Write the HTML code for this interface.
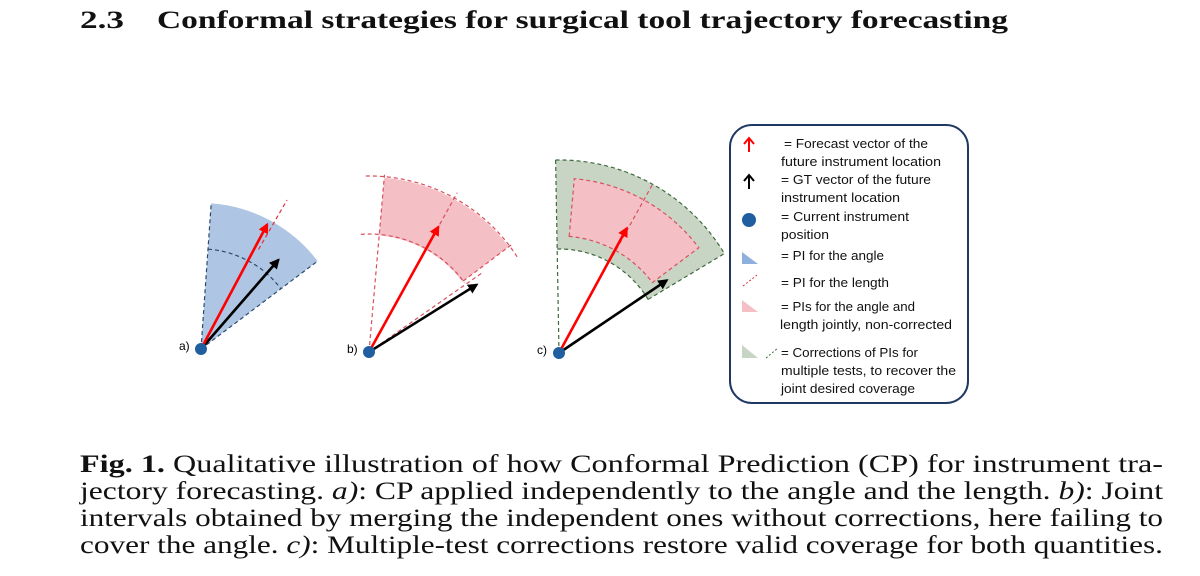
<!DOCTYPE html>
<html><head><meta charset="utf-8"><style>
html,body{margin:0;padding:0;background:#fff;}
svg{display:block;}
.cap{font-family:"Liberation Serif",serif;font-size:25.5px;fill:#111;}
.lg{font-family:"Liberation Sans",sans-serif;font-size:13px;fill:#111;}
</style></head><body>
<svg id="fig" width="1200" height="576" viewBox="0 0 1200 576">
<defs>
<marker id="ar" viewBox="0 0 10 10" refX="8" refY="5" markerWidth="4" markerHeight="4" orient="auto"><path d="M0,0L10,5L0,10z" fill="#f00"/></marker>
<marker id="ak" viewBox="0 0 10 10" refX="8" refY="5" markerWidth="4" markerHeight="4" orient="auto"><path d="M0,0L10,5L0,10z" fill="#000"/></marker>
</defs>
<text x="80" y="28" font-family="Liberation Serif,serif" font-weight="bold" font-size="25" textLength="44" lengthAdjust="spacingAndGlyphs" fill="#111">2.3</text>
<text x="157" y="28" font-family="Liberation Serif,serif" font-weight="bold" font-size="25" textLength="851" lengthAdjust="spacingAndGlyphs" fill="#111">Conformal strategies for surgical tool trajectory forecasting</text>
<g id="panels"></g>
<g>
<rect x="730" y="125" width="238" height="278" rx="22" fill="#fff" stroke="#1f3864" stroke-width="2"/>
<path d="M749,152L749,139M744,144L749,138L754,144" stroke="#f00" stroke-width="2" fill="none"/>
<path d="M749,189L749,176M744,181L749,175L754,181" stroke="#000" stroke-width="2" fill="none"/>
<circle cx="749" cy="220" r="7" fill="#1f5fa0"/>
<path d="M742,252L742,264L758,264z" fill="#8fb0dc"/>
<path d="M743,286L757,275" stroke="#d33" stroke-width="1" stroke-dasharray="2,2"/>
<path d="M742,300L742,312L758,312z" fill="#f4c0c6"/>
<path d="M742,345L742,358L758,358z" fill="#c9d5c4"/>
<path d="M766,358L778,348" stroke="#3a6a3a" stroke-width="1" stroke-dasharray="2,2"/>
<text class="lg" x="784" y="148" textLength="144" lengthAdjust="spacingAndGlyphs">= Forecast vector of the</text>
<text class="lg" x="781" y="166" textLength="160" lengthAdjust="spacingAndGlyphs">future instrument location</text>
<text class="lg" x="781" y="184" textLength="150" lengthAdjust="spacingAndGlyphs">= GT vector of the future</text>
<text class="lg" x="781" y="202" textLength="119" lengthAdjust="spacingAndGlyphs">instrument location</text>
<text class="lg" x="781" y="221" textLength="128" lengthAdjust="spacingAndGlyphs">= Current instrument</text>
<text class="lg" x="781" y="239" textLength="48" lengthAdjust="spacingAndGlyphs">position</text>
<text class="lg" x="781" y="260" textLength="103" lengthAdjust="spacingAndGlyphs">= PI for the angle</text>
<text class="lg" x="781" y="287" textLength="108" lengthAdjust="spacingAndGlyphs">= PI for the length</text>
<text class="lg" x="781" y="311" textLength="134" lengthAdjust="spacingAndGlyphs">= PIs for the angle and</text>
<text class="lg" x="780" y="329" textLength="172" lengthAdjust="spacingAndGlyphs">length jointly, non-corrected</text>
<text class="lg" x="781" y="357" textLength="137" lengthAdjust="spacingAndGlyphs">= Corrections of PIs for</text>
<text class="lg" x="781" y="375" textLength="175" lengthAdjust="spacingAndGlyphs">multiple tests, to recover the</text>
<text class="lg" x="781" y="393" textLength="134" lengthAdjust="spacingAndGlyphs">joint desired coverage</text>
</g>
<g>
<text class="cap" x="80" y="472" textLength="1083" lengthAdjust="spacingAndGlyphs"><tspan font-weight="bold">Fig. 1.</tspan> Qualitative illustration of how Conformal Prediction (CP) for instrument tra-</text>
<text class="cap" x="80" y="499" textLength="1083" lengthAdjust="spacingAndGlyphs">jectory forecasting. <tspan font-style="italic">a)</tspan>: CP applied independently to the angle and the length. <tspan font-style="italic">b)</tspan>: Joint</text>
<text class="cap" x="80" y="526" textLength="1083" lengthAdjust="spacingAndGlyphs">intervals obtained by merging the independent ones without corrections, here failing to</text>
<text class="cap" x="80" y="553" textLength="1083" lengthAdjust="spacingAndGlyphs">cover the angle. <tspan font-style="italic">c)</tspan>: Multiple-test corrections restore valid coverage for both quantities.</text>
</g>
</svg>
<script>
// panel data: origin, angle/radius intervals, arrow polar coordinates
const panelNames = ['a', 'b', 'c'];
const originsX = [201, 369, 559];
const originsY = [349, 352, 353];
const redAngle = [28, 29, 28.5];
const redLen = [141, 143, 142];
const blackAngle = [41, 58, 56];
const blackLen = [118, 127, 130];

const NS = 'http://www.w3.org/2000/svg';
const G = document.getElementById('panels');
function P(i, a, r) { const t = a * Math.PI / 180; return [originsX[i] + r * Math.sin(t), originsY[i] - r * Math.cos(t)]; }
function f(p) { return p[0].toFixed(1) + ',' + p[1].toFixed(1); }
function arc(i, a1, a2, r) { return 'M' + f(P(i, a1, r)) + 'A' + r + ',' + r + ' 0 0 1 ' + f(P(i, a2, r)); }
function ring(i, a1, a2, r1, r2) {
  return 'M' + f(P(i, a1, r1)) + 'L' + f(P(i, a1, r2)) + 'A' + r2 + ',' + r2 + ' 0 0 1 ' + f(P(i, a2, r2)) +
    'L' + f(P(i, a2, r1)) + (r1 > 0 ? 'A' + r1 + ',' + r1 + ' 0 0 0 ' + f(P(i, a1, r1)) : '') + 'Z';
}
function path(d, fill, stroke, w, dash, name) {
  const e = document.createElementNS(NS, 'path');
  e.setAttribute('d', d);
  e.setAttribute('fill', fill);
  if (stroke) { e.setAttribute('stroke', stroke); e.setAttribute('stroke-width', w); }
  if (dash) e.setAttribute('stroke-dasharray', dash);
  
  
  G.appendChild(e);
  return e;
}
function radial(i, a, r1, r2) { return 'M' + f(P(i, a, r1)) + 'L' + f(P(i, a, r2)); }

// panel a
path(ring(0, 4, 53, 0, 146), '#afc5e4', null, 0, null, 'angle-interval-a');
path(radial(0, 4, 0, 146) + radial(0, 53, 0, 146), 'none', '#2c4a6e', 1.2, '4,3', 'angle-bounds-a');
path(arc(0, 4, 53, 100), 'none', '#2c4a6e', 1.2, '4,3', 'inner-arc-a');
path(radial(0, 30, 115, 172), 'none', '#e03040', 1.2, '4,3', 'length-interval-a');
// panel b
path(ring(1, 5, 53, 117, 175), '#f4c0c6', null, 0, null, 'joint-interval-b');
path(arc(1, -1, 58, 176) + arc(1, -4, 54, 118), 'none', '#d9505e', 1.2, '4,3', 'length-arcs-b');
path(radial(1, 5, 0, 178) + radial(1, 53, 118, 178) + radial(1, 55, 0, 140), 'none', '#d9505e', 1.2, '4,3', 'angle-bounds-b');
path(radial(1, 29, 118, 182), 'none', '#d9505e', 1.2, '4,3', 'length-interval-b');
// panel c
path(ring(2, -1, 59, 104, 193), '#c9d5c4', null, 0, null, 'corrected-interval-c');
path(ring(2, 5, 53, 117, 175), '#f4c0c6', null, 0, null, 'joint-interval-c');
path(arc(2, -1, 59, 193) + radial(2, -1, 0, 193) + radial(2, 59, 104, 193) + arc(2, -1, 59, 104), 'none', '#3f6a3f', 1.2, '4,3', 'corrected-bounds-c');
path(ring(2, 5, 53, 117, 175), 'none', '#d9505e', 1.2, '4,3', 'joint-bounds-c');
path(radial(2, 29, 104, 193), 'none', '#d9505e', 1.2, '4,3', 'length-interval-c');

for (let i = 0; i < 3; i++) {
  const o = [originsX[i], originsY[i]];
  const r = P(i, redAngle[i], redLen[i]);
  const b = P(i, blackAngle[i], blackLen[i]);
  const ab = path('M' + f(o) + 'L' + f(b), 'none', '#000', 2.6, null, 'gt-arrow-' + panelNames[i]);
  ab.setAttribute('marker-end', 'url(#ak)');
  const ar = path('M' + f(o) + 'L' + f(r), 'none', '#f00', 2.6, null, 'forecast-arrow-' + panelNames[i]);
  ar.setAttribute('marker-end', 'url(#ar)');
  const c = document.createElementNS(NS, 'circle');
  c.setAttribute('cx', o[0]); c.setAttribute('cy', o[1]); c.setAttribute('r', 6); c.setAttribute('fill', '#1f5fa0');
  
  
  G.appendChild(c);
  const t = document.createElementNS(NS, 'text');
  t.setAttribute('x', o[0] - 22); t.setAttribute('y', o[1] + 1);
  t.setAttribute('font-family', 'Liberation Sans, sans-serif'); t.setAttribute('font-size', '12');
  t.textContent = panelNames[i] + ')';
  
  
  G.appendChild(t);
}
</script>
</body></html>
